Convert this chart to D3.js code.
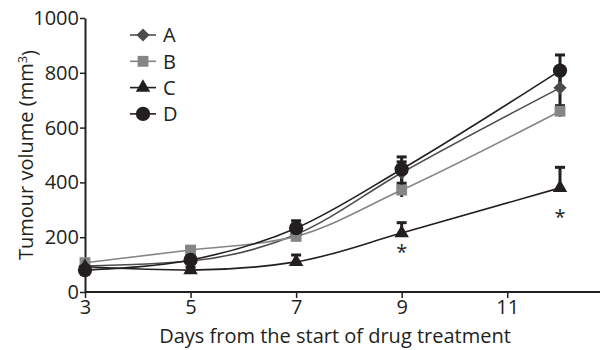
<!DOCTYPE html>
<html>
<head>
<meta charset="utf-8">
<script src="https://cdn.jsdelivr.net/npm/d3@7"></script>
<style>
  body { margin: 0; background: #fff; }
  text { font-family: "Open Sans", "Noto Sans", sans-serif; fill: #231f20; }
</style>
</head>
<body>
<svg width="600" height="350"></svg>
<script>
var days = [3, 5, 7, 9, 12];
var seriesNames = ["A", "B", "C", "D"];
var valuesA = [95, 113, 210, 435, 745];
var valuesB = [107, 153, 203, 372, 660];
var valuesC = [92, 80, 110, 215, 380];
var valuesD = [80, 117, 233, 448, 808];
// upper / lower error
var errUpA = [8, 10, 20, 40, 60], errLoA = [8, 10, 20, 40, 65];
var errUpB = [8, 10, 12, 25, 20], errLoB = [8, 10, 12, 25, 20];
var errUpC = [8, 10, 25, 38, 75], errLoC = [0, 0, 0, 0, 0];
var errUpD = [8, 12, 27, 45, 57], errLoD = [8, 12, 27, 45, 57];
var xTicks = [3, 5, 7, 9, 11];
var yTicks = [0, 200, 400, 600, 800, 1000];
var signif = [{ day: 9, v: 120 }, { day: 12, v: 250 }];

var svg = d3.select("svg");
var x = d3.scaleLinear().domain([3, 12]).range([85, 560]);
var y = d3.scaleLinear().domain([0, 1000]).range([292, 18]);

var series = [
  { name: "A", vals: valuesA, up: errUpA, lo: errLoA, color: "#4d4d4f", line: "#4d4d4f", shape: d3.symbolDiamond2, size: 110 },
  { name: "B", vals: valuesB, up: errUpB, lo: errLoB, color: "#858585", line: "#858585", shape: d3.symbolSquare2, size: 150 },
  { name: "C", vals: valuesC, up: errUpC, lo: errLoC, color: "#231f20", line: "#231f20", shape: d3.symbolTriangle2, size: 150 },
  { name: "D", vals: valuesD, up: errUpD, lo: errLoD, color: "#231f20", line: "#231f20", shape: d3.symbolCircle, size: 160 }
];

// axes
var xAxis = svg.append("g").attr("transform", "translate(0," + y(0) + ")")
  .call(d3.axisBottom(x).tickValues(xTicks).tickFormat(d3.format("d")).tickSize(6).tickSizeOuter(0));
xAxis.select(".domain").attr("d", "M85,0H600");
var yAxis = svg.append("g").attr("transform", "translate(" + x(3) + ",0)")
  .call(d3.axisLeft(y).tickValues(yTicks).tickFormat(d3.format("d")).tickSize(5).tickSizeOuter(0));
svg.selectAll(".domain").attr("stroke", "#231f20").attr("stroke-width", 2);
svg.selectAll(".tick line").attr("stroke", "#231f20").attr("stroke-width", 1.5);
svg.selectAll(".tick text").style("font-size", "20px").attr("fill", "#231f20");
xAxis.selectAll(".tick text").attr("dy", "0.9em").attr("y", 4);
yAxis.selectAll(".tick text").attr("x", -6);

svg.append("text").attr("x", 335).attr("y", 343).attr("text-anchor", "middle")
  .style("font-size", "20px").text("Days from the start of drug treatment");
var yl = svg.append("text").attr("transform", "translate(33,155) rotate(-90)")
  .attr("text-anchor", "middle").style("font-size", "20px");
yl.append("tspan").text("Tumour volume (mm");
yl.append("tspan").attr("dy", "-0.45em").style("font-size", "13px").text("3");
yl.append("tspan").attr("dy", "0.45em").text(")");

// error bars
series.forEach(function(s) {
  var g = svg.append("g");
  days.forEach(function(d, i) {
    var cx = x(d), top = y(s.vals[i] + s.up[i]), bot = y(s.vals[i] - s.lo[i]);
    g.append("line").attr("x1", cx).attr("x2", cx).attr("y1", top).attr("y2", bot)
      .attr("stroke", "#231f20").attr("stroke-width", 3);
    g.append("line").attr("x1", cx - 5).attr("x2", cx + 5).attr("y1", top).attr("y2", top)
      .attr("stroke", "#231f20").attr("stroke-width", 3);
  });
});

// lines
var line = d3.line().x(function(d) { return x(d[0]); }).y(function(d) { return y(d[1]); })
  .curve(d3.curveMonotoneX);
series.forEach(function(s) {
  svg.append("path").datum(days.map(function(d, i) { return [d, s.vals[i]]; }))
    .attr("d", line).attr("fill", "none").attr("stroke", s.line).attr("stroke-width", 1.6);
});

// markers
series.forEach(function(s) {
  svg.append("g").selectAll("path").data(days).enter().append("path")
    .attr("transform", function(d, i) { return "translate(" + x(d) + "," + y(s.vals[i]) + ")"; })
    .attr("d", d3.symbol().type(s.shape).size(s.size)).attr("fill", s.color);
});

// significance
svg.selectAll(".star").data(signif).enter().append("text")
  .attr("x", function(d) { return x(d.day); }).attr("y", function(d) { return y(d.v); })
  .attr("text-anchor", "middle").style("font-size", "20px").text("*");

// legend
var leg = svg.append("g").selectAll("g").data(series).enter().append("g")
  .attr("transform", function(d, i) { return "translate(143," + (35 + i * 26.3) + ")"; });
leg.append("line").attr("x1", -13).attr("x2", 13).attr("stroke", function(d) { return d.line; }).attr("stroke-width", 1.6);
leg.append("path").attr("d", function(d) { return d3.symbol().type(d.shape).size(d.size)(); })
  .attr("fill", function(d) { return d.color; });
leg.append("text").attr("x", 20).attr("dy", "0.36em").style("font-size", "20px")
  .text(function(d) { return d.name; });
</script>
</body>
</html>
